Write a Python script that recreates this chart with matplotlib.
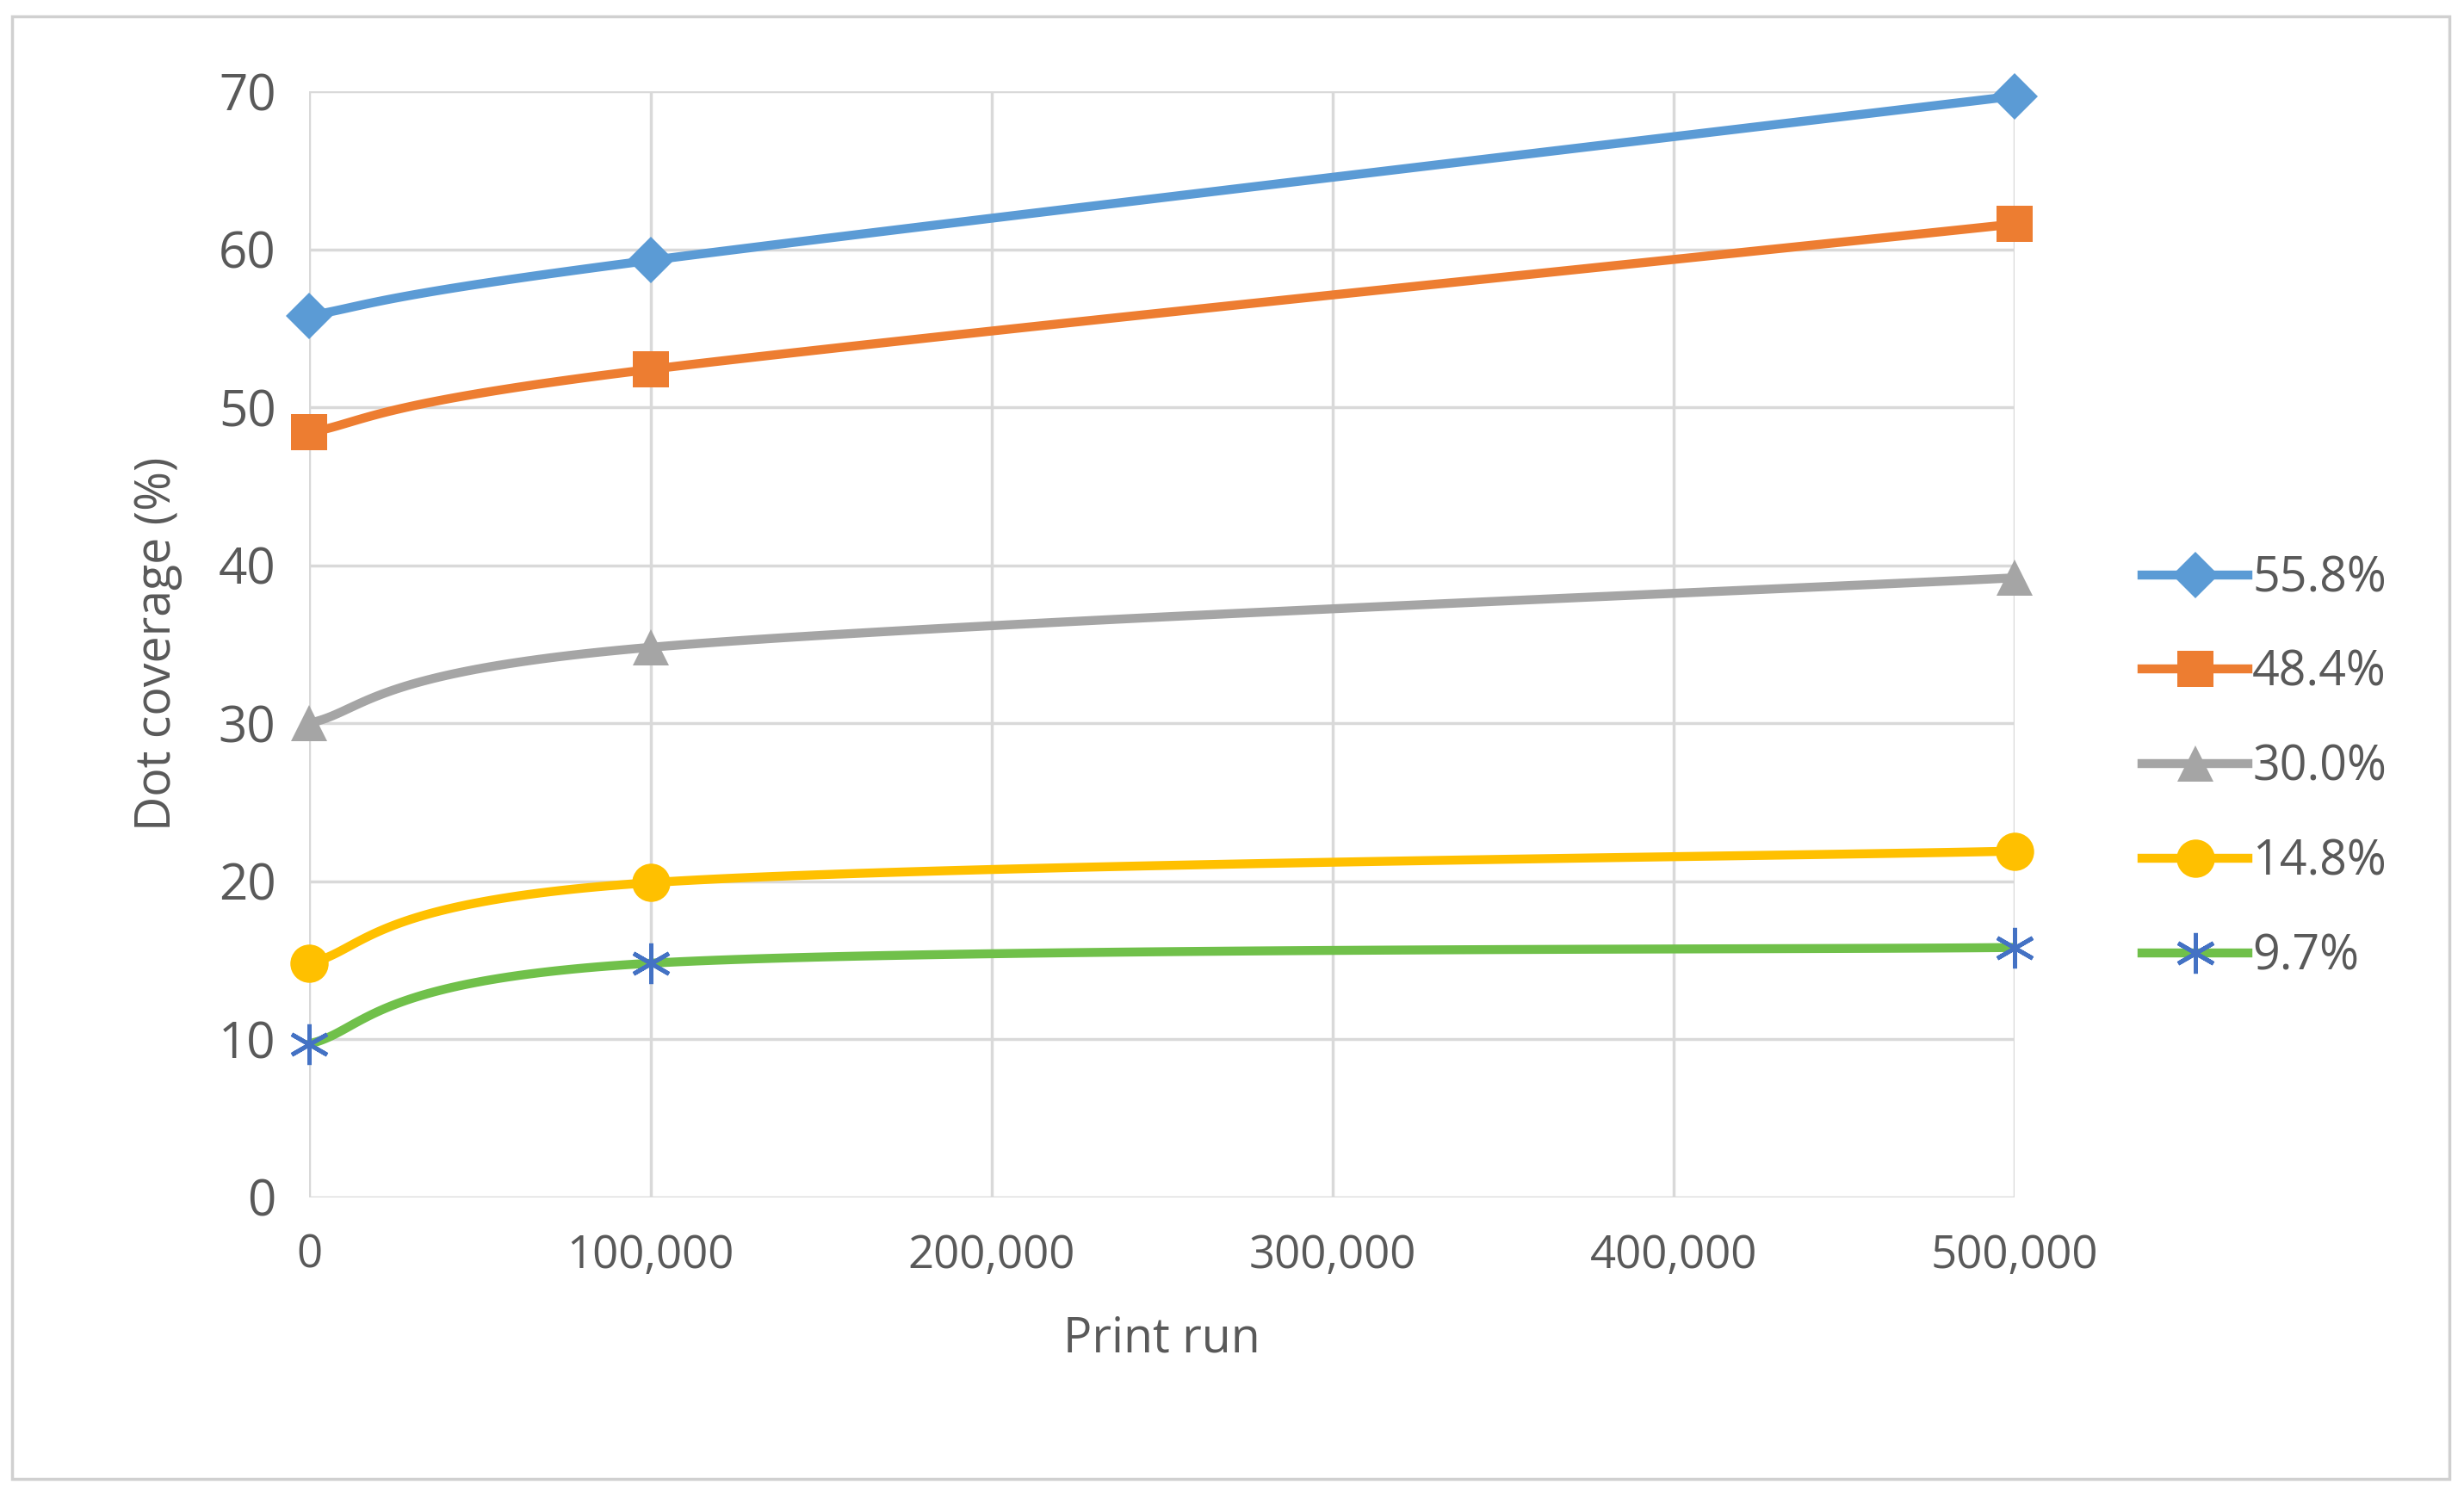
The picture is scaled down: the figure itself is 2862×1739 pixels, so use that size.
import numpy as np
import matplotlib
matplotlib.use("Agg")
import matplotlib.pyplot as plt
from matplotlib.patches import Rectangle

plt.rcParams['font.family'] = ['Open Sans', 'DejaVu Sans']

print_run = [0, 100000, 500000]
series_labels = ["55.8%", "48.4%", "30.0%", "14.8%", "9.7%"]
s558 = [55.8, 59.3, 69.7]
s484 = [48.4, 52.4, 61.6]
s300 = [30.0, 34.8, 39.2]
s148 = [14.8, 19.9, 21.9]
s97 = [9.7, 14.8, 15.8]
colors = ["#5b9bd5", "#ed7d31", "#a5a5a5", "#ffc000", "#70c04a"]
markers = ["D", "s", "^", "o", (6, 2, 0)]
mcolors = ["#5b9bd5", "#ed7d31", "#a5a5a5", "#ffc000", "#4472c4"]
msizes = [28, 30, 30, 32, 34]
xticks = [0, 100000, 200000, 300000, 400000, 500000]
xticklabels = ["0", "100,000", "200,000", "300,000", "400,000", "500,000"]

def smooth(x, y, n=60):
    x = np.asarray(x, float); y = np.asarray(y, float)
    P = np.column_stack([x, y])
    out = []
    for i in range(len(P) - 1):
        p0 = P[i - 1] if i > 0 else P[i]
        p1, p2 = P[i], P[i + 1]
        p3 = P[i + 2] if i + 2 < len(P) else P[i + 1]
        c1 = p1 + (p2 - p0) / 6
        c2 = p2 - (p3 - p1) / 6
        t = np.linspace(0, 1, n)[:, None]
        seg = (1-t)**3*p1 + 3*(1-t)**2*t*c1 + 3*(1-t)*t**2*c2 + t**3*p2
        out.append(seg)
    o = np.vstack(out)
    return o[:, 0], o[:, 1]

fig = plt.figure(figsize=(28.62, 17.39), dpi=100)
fig.patches.append(Rectangle((0.005, 0.012), 0.989, 0.977, transform=fig.transFigure,
                             fill=False, edgecolor="#d0d0d0", linewidth=2.5))
ax = fig.add_axes([0.1256, 0.2004, 0.692, 0.7386])
handles = []
for ys, c, m, mc, ms, lab in zip([s558, s484, s300, s148, s97], colors, markers, mcolors, msizes, series_labels):
    mew = 3.5 if isinstance(m, tuple) else 0
    sx, sy = smooth(print_run, ys)
    ax.plot(sx, sy, color=c, lw=7.5, solid_capstyle="round", zorder=3, clip_on=False)
    ax.plot(print_run, ys, ls="none", marker=m, color=mc, markersize=ms,
            markeredgewidth=mew, markeredgecolor=mc, zorder=4, clip_on=False)
    h, = ax.plot([], [], color=c, lw=7.5, marker=m, markersize=ms, markerfacecolor=mc,
                 markeredgecolor=mc, markeredgewidth=mew)
    handles.append(h)

ax.set_xlim(0, 500000)
ax.set_ylim(0, 70)
ax.set_yticks(range(0, 71, 10))
ax.set_xticks(xticks)
ax.set_xticklabels(xticklabels)
ax.grid(True, color="#d9d9d9", lw=2.5)
ax.set_axisbelow(True)
for s in ax.spines.values():
    s.set_visible(False)
ax.tick_params(length=0, colors="#595959")
ax.tick_params(axis="y", labelsize=42, pad=28)
ax.tick_params(axis="x", labelsize=38, pad=30)
ax.set_xlabel("Print run", fontsize=40, color="#595959", labelpad=30)
ax.set_ylabel("Dot coverage (%)", fontsize=40, color="#595959", labelpad=30)
fig.legend(handles=handles, labels=series_labels, loc="center left",
           bbox_to_anchor=(0.852, 0.487), frameon=False, fontsize=40,
           labelcolor="#595959", handlelength=2.2, labelspacing=0.95, handletextpad=0.1)
fig.savefig("out.png", dpi=100)
